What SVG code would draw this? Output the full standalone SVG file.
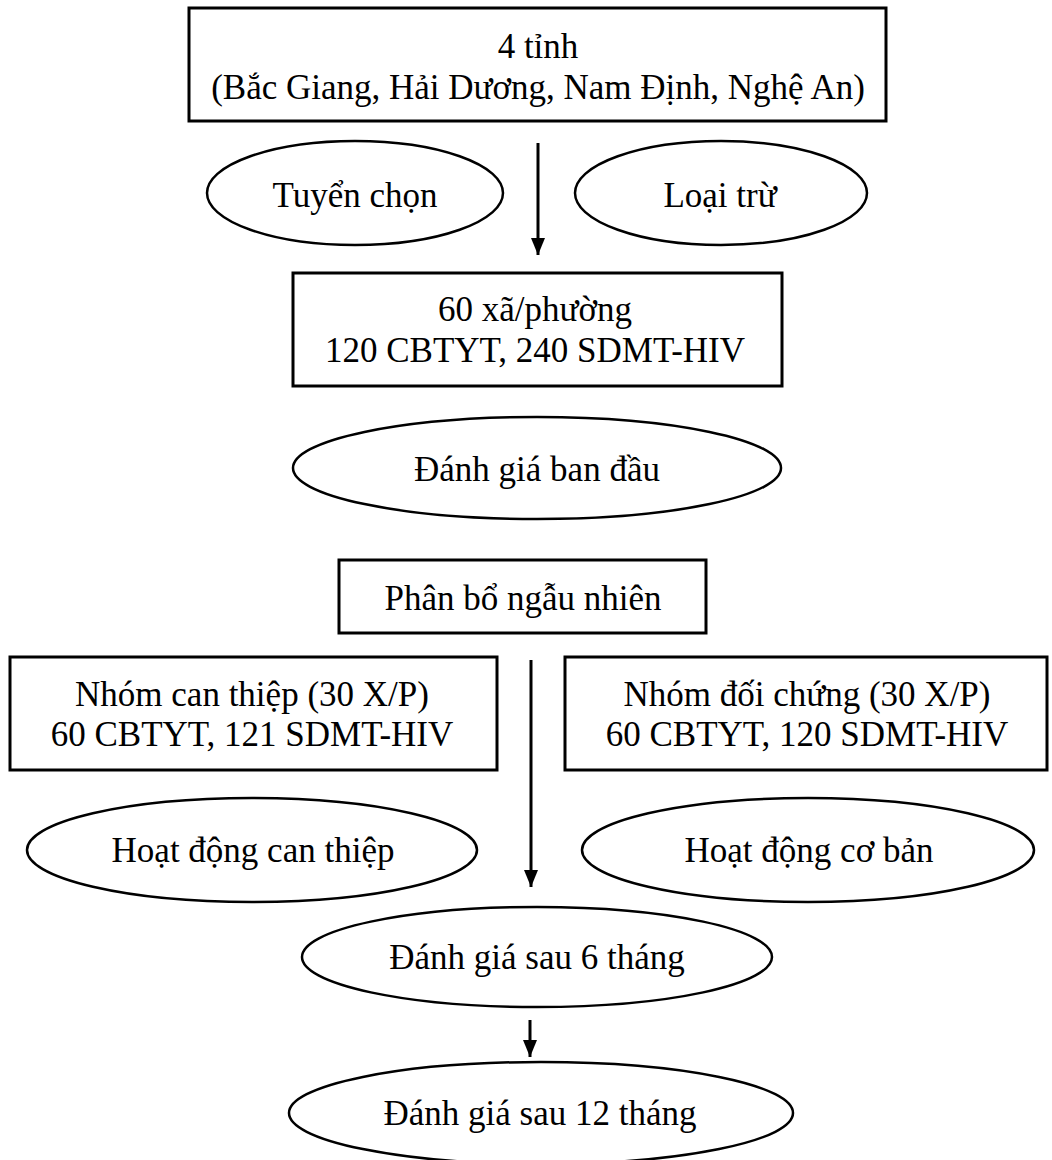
<svg xmlns="http://www.w3.org/2000/svg" width="1052" height="1160" viewBox="0 0 1052 1160">
<style>
.r{fill:#fff;stroke:#000;stroke-width:3}
.e{fill:#fff;stroke:#000;stroke-width:2.5}
.t{font-family:"Liberation Serif","Times New Roman",serif;font-size:35px;fill:#000;text-anchor:middle}
.c{stroke:#000;stroke-width:3;fill:none}
</style>
<defs>
<marker id="a" viewBox="0 0 17 14" refX="17" refY="7" markerWidth="17" markerHeight="14" orient="auto" markerUnits="userSpaceOnUse"><path d="M0,0 L17,7 L0,14 z" fill="#000"/></marker>
</defs>
<rect width="1052" height="1160" fill="#fff"/>
<g id="connectors">
<line class="c" x1="538" y1="143" x2="538" y2="255" marker-end="url(#a)"/>
<line class="c" x1="531" y1="660" x2="531" y2="887" marker-end="url(#a)"/>
<line class="c" x1="530" y1="1020" x2="530" y2="1057" marker-end="url(#a)"/>
</g>
<g id="n1"><rect class="r" x="189" y="8" width="697" height="113"/><text class="t" x="538" y="58">4 tỉnh</text><text class="t" x="538" y="99">(Bắc Giang, Hải Dương, Nam Định, Nghệ An)</text></g>
<g id="n2"><ellipse class="e" cx="355" cy="193" rx="148" ry="52"/><text class="t" x="355" y="207">Tuyển chọn</text></g>
<g id="n3"><ellipse class="e" cx="721" cy="193" rx="146" ry="52"/><text class="t" x="720" y="207">Loại trừ</text></g>
<g id="n4"><rect class="r" x="293" y="273" width="489" height="113"/><text class="t" x="535" y="321">60 xã/phường</text><text class="t" x="535" y="362">120 CBTYT, 240 SDMT-HIV</text></g>
<g id="n5"><ellipse class="e" cx="537" cy="468" rx="244" ry="51"/><text class="t" x="537" y="481">Đánh giá ban đầu</text></g>
<g id="n6"><rect class="r" x="339" y="560" width="367" height="73"/><text class="t" x="523" y="610">Phân bổ ngẫu nhiên</text></g>
<g id="n7"><rect class="r" x="10" y="657" width="487" height="113"/><text class="t" x="252" y="706">Nhóm can thiệp (30 X/P)</text><text class="t" x="252" y="746">60 CBTYT, 121 SDMT-HIV</text></g>
<g id="n8"><rect class="r" x="565" y="657" width="482" height="113"/><text class="t" x="807" y="706">Nhóm đối chứng (30 X/P)</text><text class="t" x="807" y="746">60 CBTYT, 120 SDMT-HIV</text></g>
<g id="n9"><ellipse class="e" cx="252" cy="850" rx="225" ry="52"/><text class="t" x="253" y="862">Hoạt động can thiệp</text></g>
<g id="n10"><ellipse class="e" cx="808" cy="850" rx="226" ry="52"/><text class="t" x="809" y="862">Hoạt động cơ bản</text></g>
<g id="n11"><ellipse class="e" cx="537" cy="957" rx="235" ry="50"/><text class="t" x="537" y="969">Đánh giá sau 6 tháng</text></g>
<g id="n12"><ellipse class="e" cx="541" cy="1113" rx="252" ry="51"/><text class="t" x="540" y="1125">Đánh giá sau 12 tháng</text></g>
</svg>
